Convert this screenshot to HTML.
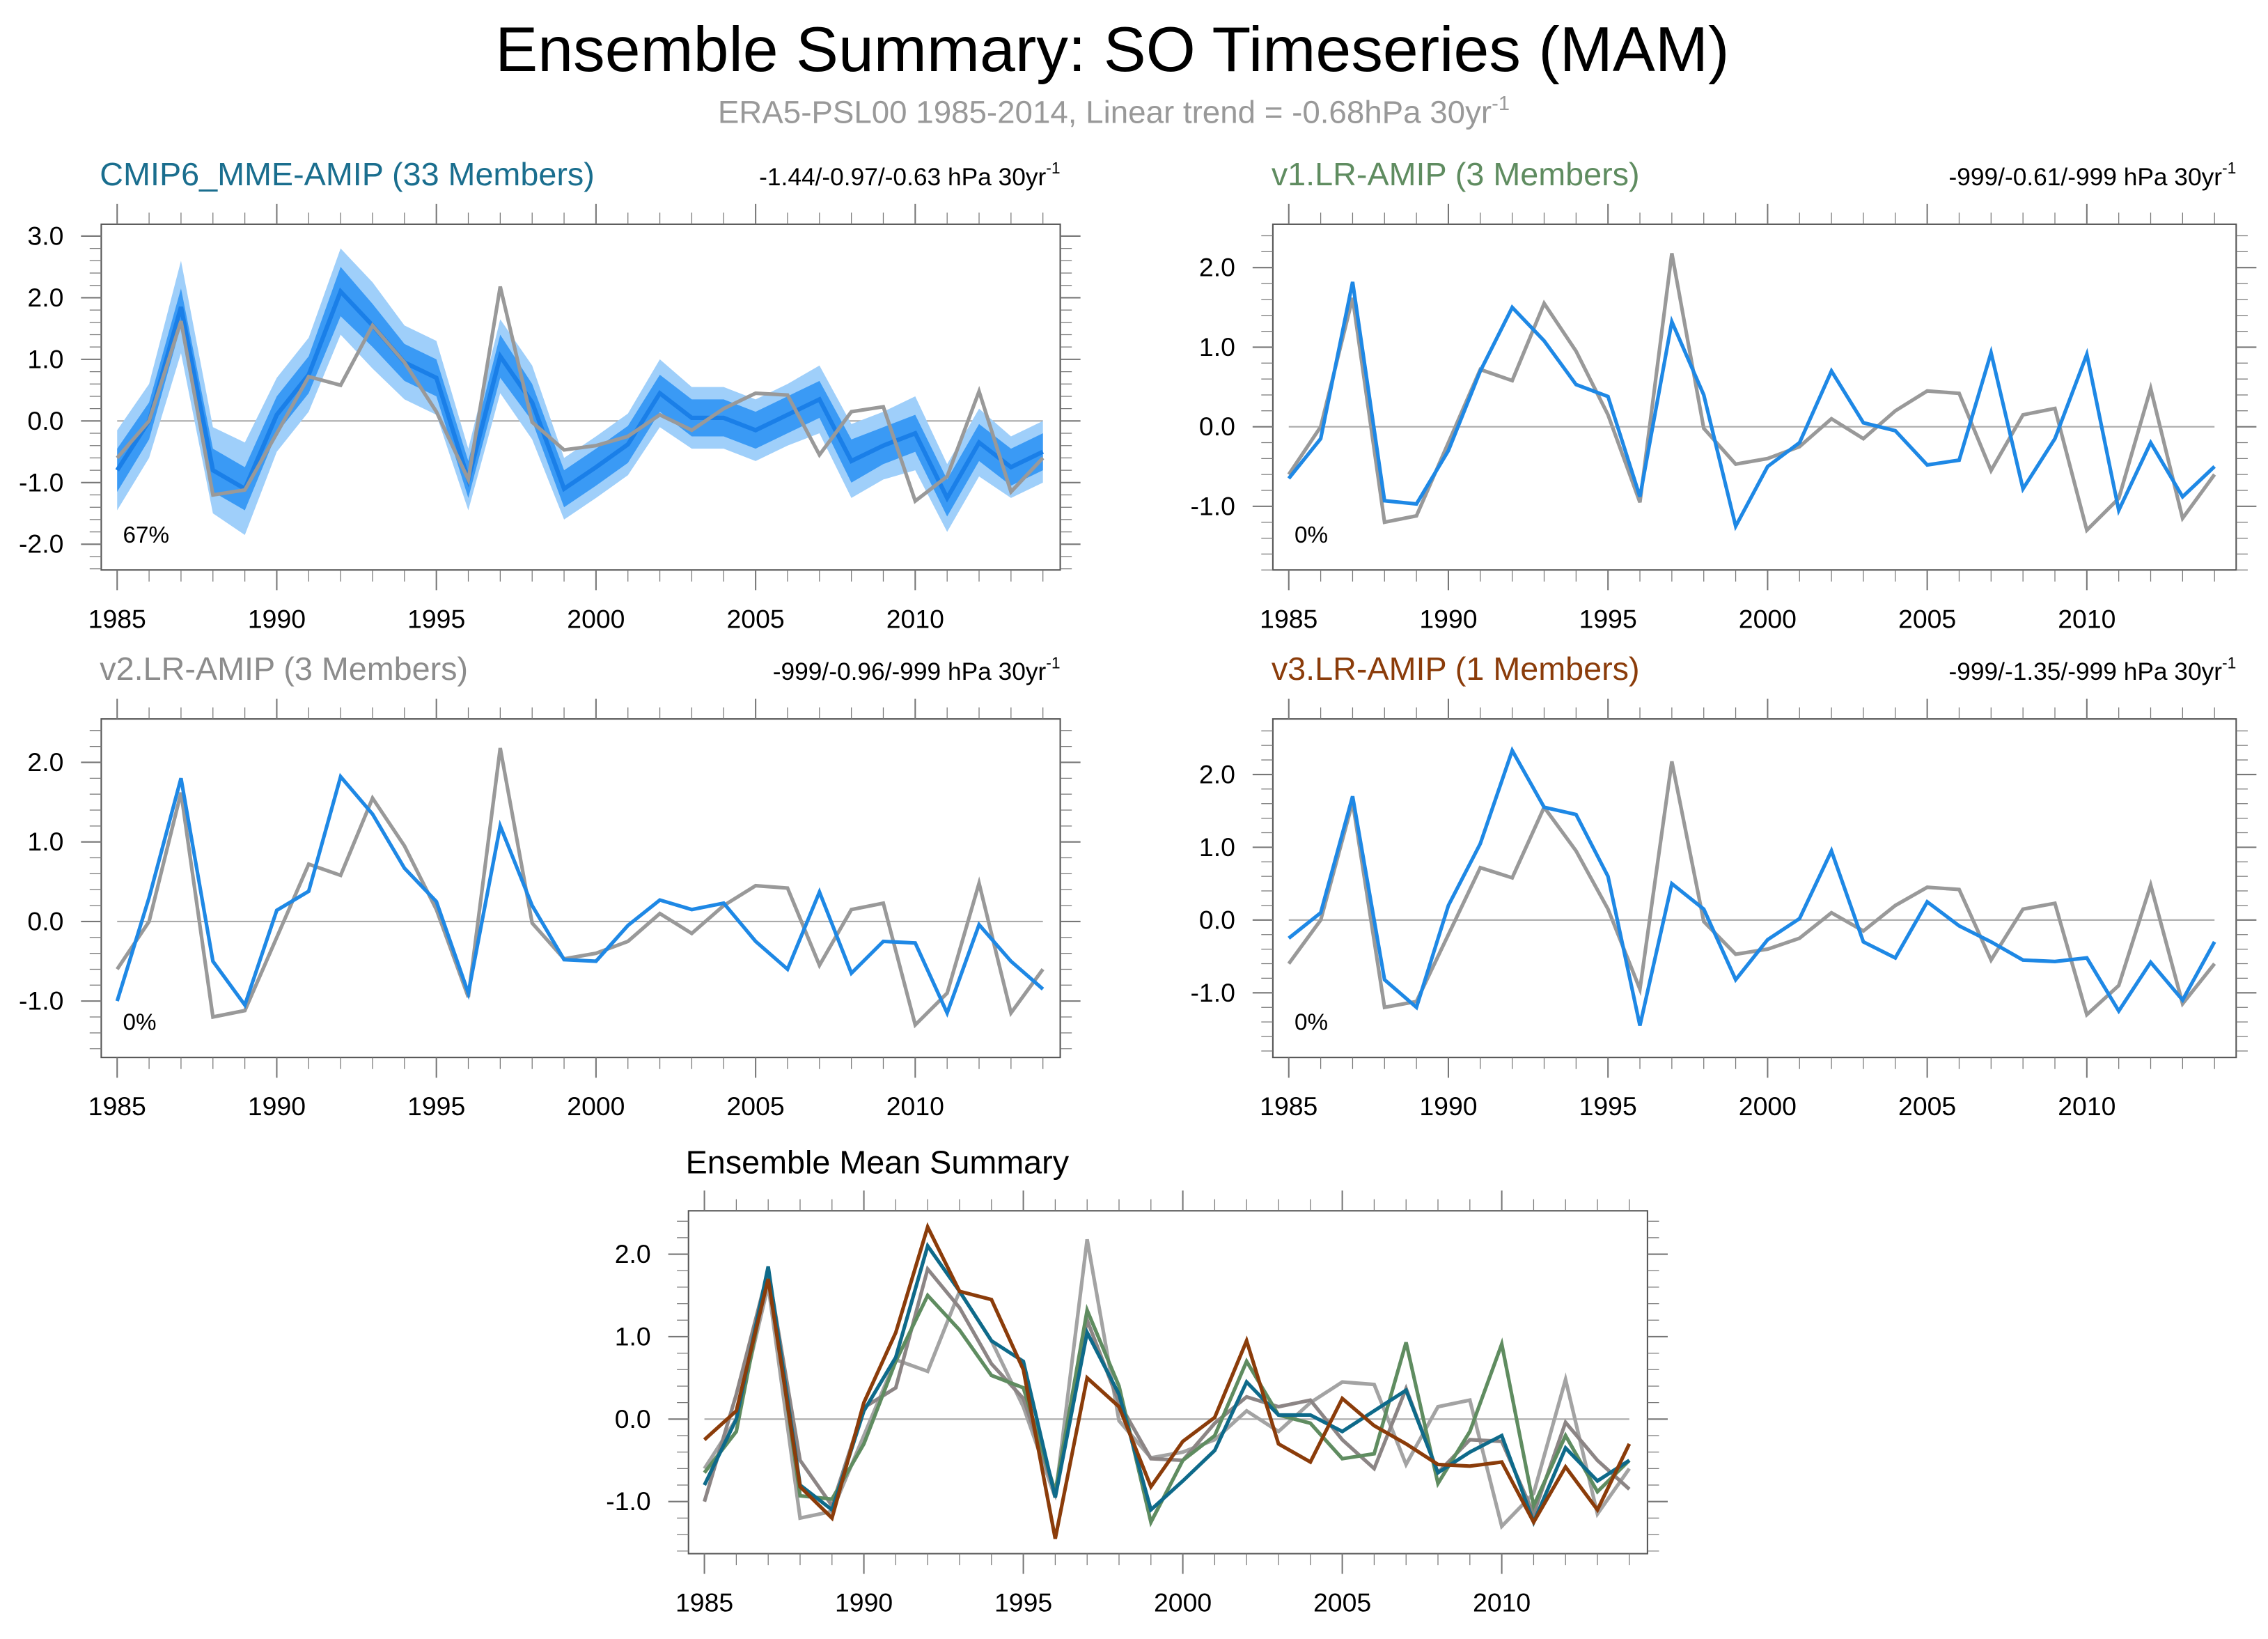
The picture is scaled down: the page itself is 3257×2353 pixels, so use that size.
<!DOCTYPE html>
<html><head><meta charset="utf-8"><style>
html,body{margin:0;padding:0;background:#fff;}
svg{display:block;font-family:"Liberation Sans",sans-serif;}
</style></head><body>
<svg id="chart" width="3257" height="2353" viewBox="0 0 1568 1133" preserveAspectRatio="none" xmlns="http://www.w3.org/2000/svg">
<text x="769" y="49" font-size="44" text-anchor="middle" fill="#000">Ensemble Summary: SO Timeseries (MAM)</text>
<text x="770" y="85" font-size="22" text-anchor="middle" fill="#999">ERA5-PSL00 1985-2014, Linear trend = -0.68hPa 30yr<tspan font-size="14" dy="-9">-1</tspan></text>
</svg>
<script>
const years = [1985,1986,1987,1988,1989,1990,1991,1992,1993,1994,1995,1996,1997,1998,1999,2000,2001,2002,2003,2004,2005,2006,2007,2008,2009,2010,2011,2012,2013,2014];
const era5 = [-0.6,0.0,1.62,-1.2,-1.12,-0.2,0.72,0.58,1.55,0.95,0.15,-0.95,2.18,-0.02,-0.47,-0.4,-0.25,0.1,-0.15,0.2,0.45,0.42,-0.55,0.15,0.23,-1.3,-0.9,0.48,-1.15,-0.6];
const mme = [-0.8,0.0,1.85,-0.8,-1.1,0.1,0.75,2.1,1.55,0.95,0.7,-0.95,1.05,0.3,-1.1,-0.75,-0.38,0.45,0.05,0.05,-0.15,0.1,0.35,-0.65,-0.4,-0.2,-1.25,-0.35,-0.75,-0.5];
const mmeInner = [0.35,0.3,0.3,0.35,0.35,0.3,0.3,0.4,0.35,0.3,0.3,0.3,0.35,0.3,0.3,0.3,0.3,0.3,0.3,0.3,0.3,0.3,0.3,0.35,0.3,0.3,0.3,0.3,0.3,0.3];
const mmeOuter = [0.65,0.6,0.75,0.7,0.75,0.6,0.6,0.7,0.7,0.6,0.6,0.5,0.6,0.6,0.5,0.5,0.5,0.55,0.5,0.5,0.5,0.5,0.55,0.6,0.55,0.6,0.55,0.55,0.5,0.5];
const v1 = [-0.65,-0.15,1.82,-0.93,-0.97,-0.3,0.7,1.5,1.08,0.53,0.38,-0.88,1.32,0.4,-1.25,-0.5,-0.2,0.7,0.05,-0.05,-0.48,-0.42,0.93,-0.78,-0.15,0.91,-1.05,-0.2,-0.88,-0.5];
const v2 = [-1.0,0.3,1.8,-0.5,-1.05,0.14,0.38,1.82,1.35,0.67,0.25,-0.9,1.2,0.2,-0.48,-0.5,-0.05,0.27,0.15,0.23,-0.25,-0.6,0.37,-0.65,-0.25,-0.27,-1.15,-0.04,-0.5,-0.85];
const v3 = [-0.25,0.1,1.7,-0.82,-1.2,0.2,1.05,2.33,1.55,1.45,0.6,-1.45,0.5,0.15,-0.82,-0.27,0.02,0.95,-0.3,-0.52,0.25,-0.08,-0.3,-0.55,-0.57,-0.52,-1.25,-0.58,-1.1,-0.3];
const xTickLabels = ["1985","1990","1995","2000","2005","2010"];

const NS="http://www.w3.org/2000/svg";
const svg=document.getElementById('chart');
function mk(tag,attrs,parent){const e=document.createElementNS(NS,tag);for(const k in attrs)e.setAttribute(k,attrs[k]);(parent||svg).appendChild(e);return e;}

function panel(cfg){
  const g=mk('g',{});
  
  
  const xs=y=>cfg.x0+(y-1985)*cfg.dx;
  const ys=v=>cfg.y0-v*cfg.dy;
  const box=mk('rect',{x:cfg.L,y:cfg.T,width:cfg.R-cfg.L,height:cfg.B-cfg.T,fill:'none',stroke:'#555','stroke-width':1},g);
  
  
  for(let y=1985;y<=2014;y++){
    const maj=(y%5===0); const len=maj?14:8; const x=xs(y);
    mk('line',{x1:x,x2:x,y1:cfg.B,y2:cfg.B+len,stroke:'#777','stroke-width':maj?1:0.6},g);
    mk('line',{x1:x,x2:x,y1:cfg.T,y2:cfg.T-len,stroke:'#777','stroke-width':maj?1:0.6},g);
  }
  xTickLabels.forEach(l=>{
    const t=mk('text',{x:xs(+l),y:cfg.B+40,'font-size':18,'text-anchor':'middle',fill:'#000'},g);
    t.textContent=l;
    
    
  });
  for(let i=Math.round(cfg.ymin*5);i<=Math.round(cfg.ymax*5);i++){
    const v=i/5; const yy=ys(v); if(yy<cfg.T||yy>cfg.B) continue;
    const maj=(i%5===0); const len=maj?14:8;
    mk('line',{x1:cfg.L,x2:cfg.L-len,y1:yy,y2:yy,stroke:'#777','stroke-width':maj?1:0.6},g);
    mk('line',{x1:cfg.R,x2:cfg.R+len,y1:yy,y2:yy,stroke:'#777','stroke-width':maj?1:0.6},g);
    if(maj && cfg.yLabels){
      const t=mk('text',{x:cfg.L-26,y:yy+6,'font-size':18,'text-anchor':'end',fill:'#000'},g);
      t.textContent=v.toFixed(1);
      
      
    }
  }
  const zl=mk('line',{x1:xs(1985),x2:xs(2014),y1:ys(0),y2:ys(0),stroke:'#aaa','stroke-width':1},g);
  
  
  if(cfg.bands){
    [[mmeOuter,'#9fcffa'],[mmeInner,'#3a9af5']].forEach(([sp,col],bi)=>{
      let d='';
      years.forEach((y,i)=>{d+=(i?'L':'M')+xs(y)+','+ys(mme[i]+sp[i]);});
      for(let i=years.length-1;i>=0;i--) d+='L'+xs(years[i])+','+ys(mme[i]-sp[i]);
      const p=mk('path',{d:d+'Z',fill:col,stroke:'none'},g);
      
      
    });
  }
  cfg.series.forEach(s=>{
    const pts=years.map((y,i)=>xs(y)+','+ys(s.data[i])).join(' ');
    const pl=mk('polyline',{points:pts,fill:'none',stroke:s.color,'stroke-width':s.w||2.5,'stroke-linejoin':'miter'},g);
    
    
  });
  if(cfg.title){
    const t=mk('text',{x:cfg.L-1,y:cfg.T-27,'font-size':22.5,fill:cfg.titleColor},g);
    t.textContent=cfg.title;
    
    
  }
  if(cfg.trend){
    const t=mk('text',{x:cfg.R,y:cfg.T-27,'font-size':17,'text-anchor':'end',fill:'#000'},g);
    t.innerHTML=cfg.trend+' hPa 30yr<tspan font-size="11" dy="-8">-1</tspan>';
    
    
  }
  if(cfg.pct){
    const t=mk('text',{x:xs(1985)+4,y:cfg.B-19,'font-size':16,fill:'#000'},g);
    t.textContent=cfg.pct;
    
    
  }
}

panel({name:'panel-cmip6-mme',L:70,R:733,T:155,B:394,x0:81,dx:22.07,y0:291,dy:42.6,ymin:-2.4,ymax:3.2,yLabels:true,bands:true,
  title:'CMIP6_MME-AMIP (33 Members)',titleColor:'#1a6e8e',trend:'-1.44/-0.97/-0.63',pct:'67%',
  series:[{data:mme,color:'#1a7fe8',name:'mme-line',w:3},{data:era5,color:'#999',name:'era5-line'}]});
panel({name:'panel-v1',L:880,R:1546,T:155,B:394,x0:891,dx:22.07,y0:295,dy:55,ymin:-1.8,ymax:2.6,yLabels:true,
  title:'v1.LR-AMIP (3 Members)',titleColor:'#5f8c60',trend:'-999/-0.61/-999',pct:'0%',
  series:[{data:era5,color:'#999',name:'era5-line'},{data:v1,color:'#1e88e5',name:'v1-line'}]});
panel({name:'panel-v2',L:70,R:733,T:497,B:731,x0:81,dx:22.07,y0:637,dy:55,ymin:-1.8,ymax:2.6,yLabels:true,
  title:'v2.LR-AMIP (3 Members)',titleColor:'#8c8c8c',trend:'-999/-0.96/-999',pct:'0%',
  series:[{data:era5,color:'#999',name:'era5-line'},{data:v2,color:'#1e88e5',name:'v2-line'}]});
panel({name:'panel-v3',L:880,R:1546,T:497,B:731,x0:891,dx:22.07,y0:636,dy:50.3,ymin:-1.8,ymax:2.8,yLabels:true,
  title:'v3.LR-AMIP (1 Members)',titleColor:'#8b3c0a',trend:'-999/-1.35/-999',pct:'0%',
  series:[{data:era5,color:'#999',name:'era5-line'},{data:v3,color:'#1e88e5',name:'v3-line'}]});
panel({name:'panel-ensemble-mean',L:476,R:1139,T:837,B:1074,x0:487,dx:22.05,y0:981,dy:57,ymin:-1.6,ymax:2.6,yLabels:true,
  series:[{data:era5,color:'#a3a3a3',name:'era5-line'},{data:v2,color:'#8c8585',name:'v2-mean-line'},{data:v1,color:'#5f8c60',name:'v1-mean-line'},{data:mme,color:'#0e6a8a',name:'mme-mean-line'},{data:v3,color:'#8b3c0a',name:'v3-mean-line'}]});
const bt=mk('text',{x:474,y:811,'font-size':22.5,fill:'#000'});
bt.textContent='Ensemble Mean Summary';


</script>
</body></html>
